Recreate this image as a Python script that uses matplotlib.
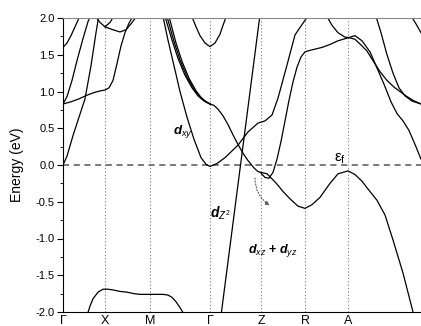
import matplotlib
matplotlib.use('Agg')
import matplotlib.pyplot as plt
from matplotlib.ticker import MultipleLocator, FormatStrFormatter

plt.rcParams['font.family'] = ['Liberation Sans', 'DejaVu Sans']
plt.rcParams['axes.unicode_minus'] = False
plt.rcParams['mathtext.fontset'] = 'custom'
plt.rcParams['mathtext.it'] = 'Liberation Sans:italic'
plt.rcParams['mathtext.rm'] = 'Liberation Sans'
plt.rcParams['mathtext.bf'] = 'Liberation Sans:bold:italic'

# high-symmetry points (path distance, arbitrary units)
kpt_pos = [0, 42, 87, 147, 198, 242, 285]
kpt_labels = ['Γ', 'X', 'M', 'Γ', 'Z', 'R', 'A']
k_end = 358

# bands: (k, E in eV)
band_g0_k = [0, 4, 10, 16, 22, 28, 33, 36]
band_g0_e = [0.0, 0.12, 0.4, 0.65, 0.9, 1.35, 1.8, 2.05]

band_steep_k = [0, 4, 9, 14, 20, 25, 28]
band_steep_e = [0.83, 0.93, 1.15, 1.42, 1.72, 1.95, 2.05]

band_flat_k = [0, 8, 16, 24, 32, 38, 42, 46, 50, 54, 58, 62, 66, 71]
band_flat_e = [0.83, 0.86, 0.9, 0.95, 0.99, 1.01, 1.02, 1.05, 1.15, 1.38, 1.62, 1.8, 1.93, 2.05]

band_16_k = [0, 4, 8, 12, 16, 19]
band_16_e = [1.6, 1.66, 1.76, 1.88, 2.0, 2.05]

band_xv_k = [32, 37, 42, 47, 51]
band_xv_e = [2.03, 1.94, 1.88, 1.94, 2.03]

band_x2_k = [42, 50, 57, 63, 68, 74]
band_x2_e = [1.88, 1.84, 1.81, 1.84, 1.92, 2.03]

band_low_k = [24, 27, 30, 35, 40, 45, 50, 57, 64, 71, 77, 82, 87, 94, 100, 105, 109, 113, 117, 121]
band_low_e = [-2.05, -1.92, -1.82, -1.73, -1.69, -1.69, -1.7, -1.72, -1.73, -1.75, -1.76, -1.76,
              -1.76, -1.76, -1.76, -1.77, -1.8, -1.86, -1.94, -2.03]

band_gu_k = [128, 133, 137, 142, 147, 152, 157, 160, 164]
band_gu_e = [2.05, 1.88, 1.76, 1.66, 1.61, 1.66, 1.78, 1.9, 2.05]

band_dxy_k = [100, 105, 111, 117, 124, 131, 138, 143, 147, 154, 162, 175, 185, 195, 202,
              209, 215, 224, 232, 242, 247]
band_dxy_e = [2.02, 1.7, 1.35, 1.0, 0.65, 0.35, 0.1, 0.01, -0.02, 0.02, 0.1, 0.27, 0.45, 0.57,
              0.6, 0.68, 0.91, 1.36, 1.77, 1.97, 2.05]

band_b1_k = [102, 109, 115, 122, 129, 135, 141, 147]
band_b1_e = [2.02, 1.7, 1.45, 1.22, 1.05, 0.94, 0.87, 0.83]
band_b2_k = [104, 111, 117, 124, 131, 137, 142, 147]
band_b2_e = [2.02, 1.68, 1.43, 1.2, 1.03, 0.93, 0.87, 0.83]
band_b3_k = [106, 113, 119, 126, 133, 138, 143, 147]
band_b3_e = [2.02, 1.66, 1.41, 1.18, 1.01, 0.92, 0.86, 0.83]

band_c_k = [147, 151, 155, 160, 165, 170, 175, 180, 185, 191, 195, 198, 204, 207, 214, 220, 227,
            235, 242, 249, 257, 267, 275, 285, 292, 299, 304, 314, 322, 330, 340, 350, 355]
band_c_e = [0.83, 0.81, 0.76, 0.67, 0.55, 0.41, 0.28, 0.16, 0.06, -0.04, -0.09, -0.1, -0.12,
            -0.16, -0.26, -0.36, -0.46, -0.56, -0.59, -0.54, -0.44, -0.25, -0.12, -0.08, -0.13,
            -0.22, -0.31, -0.48, -0.68, -1.02, -1.47, -2.0, -2.2]

band_dz2_k = [158, 168, 178, 188, 198]
band_dz2_e = [-2.05, -1.0, 0.05, 1.1, 2.15]

band_e_k = [198, 202, 206, 210, 214, 218, 222, 226, 230, 234, 238, 242, 247, 253, 259, 267, 275,
            285, 292, 299, 307, 314, 321, 328, 334, 340, 346, 352, 358]
band_e_e = [-0.11, -0.17, -0.18, -0.1, 0.08, 0.32, 0.6, 0.88, 1.13, 1.33, 1.47, 1.54, 1.56, 1.58,
            1.6, 1.64, 1.69, 1.73, 1.76, 1.69, 1.54, 1.32, 1.1, 0.86, 0.7, 0.6, 0.47, 0.28, 0.08]

band_f_k = [264, 269, 275, 282, 287, 292, 299, 304, 310, 317, 324, 331, 337, 343, 350, 358]
band_f_e = [2.02, 1.9, 1.8, 1.74, 1.73, 1.71, 1.62, 1.55, 1.42, 1.27, 1.15, 1.06, 1.0, 0.94, 0.88, 0.83]

band_g_k = [313, 318, 324, 330, 336, 342, 349, 358]
band_g_e = [2.02, 1.8, 1.5, 1.25, 1.05, 0.94, 0.87, 0.83]

band_h_k = [348, 353, 358]
band_h_e = [2.03, 1.92, 1.8]

bands = [
    (band_g0_k, band_g0_e), (band_steep_k, band_steep_e), (band_flat_k, band_flat_e),
    (band_16_k, band_16_e), (band_xv_k, band_xv_e), (band_x2_k, band_x2_e),
    (band_low_k, band_low_e), (band_gu_k, band_gu_e), (band_dxy_k, band_dxy_e),
    (band_b1_k, band_b1_e), (band_b2_k, band_b2_e), (band_b3_k, band_b3_e),
    (band_c_k, band_c_e), (band_dz2_k, band_dz2_e), (band_e_k, band_e_e),
    (band_f_k, band_f_e), (band_g_k, band_g_e), (band_h_k, band_h_e),
]

fig = plt.figure(figsize=(4.21, 3.26), dpi=100)
ax = fig.add_axes([63 / 421, 14 / 326, 358 / 421, 294 / 326])

for k, e in bands:
    ax.plot(k, e, color='black', lw=0.9, solid_joinstyle='round')

# k-point guide lines and Fermi level
for kp in kpt_pos[1:]:
    ax.axvline(kp, color='#777777', ls=(0, (1, 2)), lw=0.8, zorder=0)
ax.axhline(0, color='#555555', ls=(0, (4, 3)), lw=1.1, zorder=0)

# labels
ax.text(110, 0.42, r'$\mathbf{d}_{xy}$', fontsize=9.5)
ax.text(147, -0.72, r'$\mathbf{d}_{Z^2}$', fontsize=10)
ax.text(185, -1.2, r'$\mathbf{d}_{xz}$' + ' + ' + r'$\mathbf{d}_{yz}$', fontsize=9,
        fontweight='bold')
ax.text(271, 0.05, r'ε$_\mathrm{f}$', fontsize=11)
ax.annotate('', xy=(209, -0.57), xytext=(192, -0.14),
            arrowprops=dict(arrowstyle='-|>', ls=':', lw=0.8, color='#555555',
                            connectionstyle='arc3,rad=0.3', mutation_scale=6))

ax.set_xlim(0, k_end)
ax.set_ylim(-2.0, 2.0)
ax.set_xticks(kpt_pos)
ax.set_xticklabels(kpt_labels, fontsize=9)
ax.tick_params(axis='x', length=0, pad=2)
ax.yaxis.set_major_locator(MultipleLocator(0.5))
ax.yaxis.set_minor_locator(MultipleLocator(0.25))
ax.yaxis.set_major_formatter(FormatStrFormatter('%.1f'))
ax.tick_params(axis='y', which='major', length=4, labelsize=8, pad=2)
ax.tick_params(axis='y', which='minor', length=2)
ax.set_ylabel('Energy (eV)', fontsize=10, labelpad=8)
ax.spines['right'].set_visible(False)
ax.spines['top'].set_color('#888888')

fig.savefig('out.png', dpi=100)
